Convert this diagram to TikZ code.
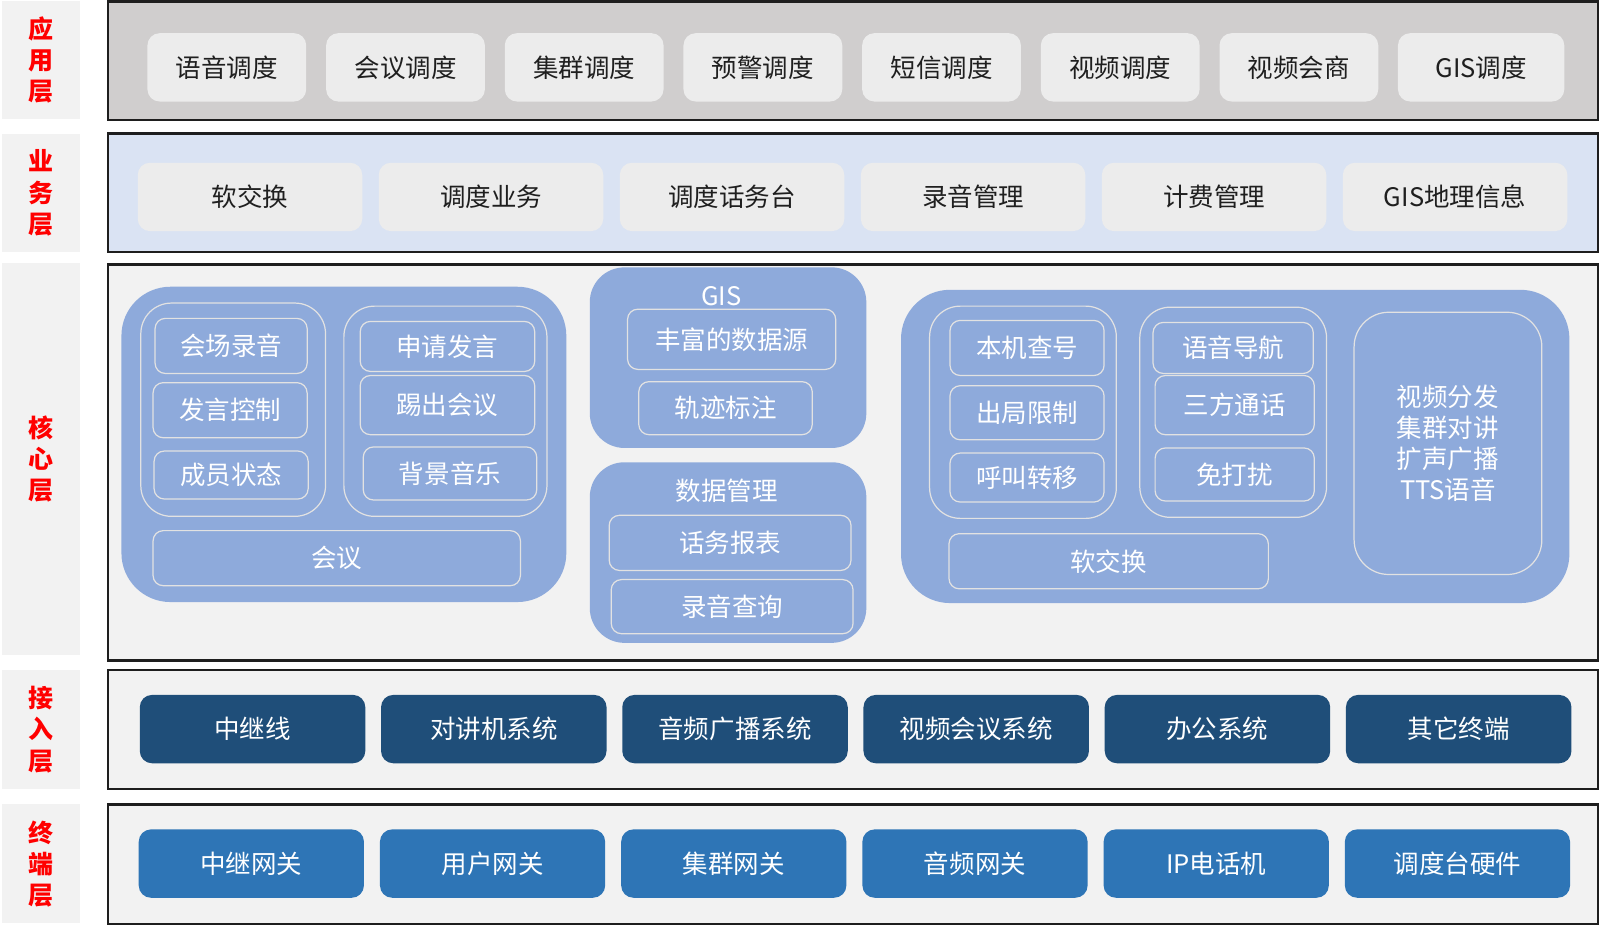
\documentclass[tikz,border=0pt]{standalone}
\usepackage{fontspec}
\newfontfamily\cjk{Noto Sans CJK SC}
\definecolor{labgray}{HTML}{F2F2F2}
\definecolor{appfill}{HTML}{D0CECE}
\definecolor{bizfill}{HTML}{DAE3F3}
\definecolor{corefill}{HTML}{F2F2F2}
\definecolor{itemgray}{HTML}{ECECEC}
\definecolor{grpblue}{HTML}{8EAADB}
\definecolor{lnc}{HTML}{E2E2E2}
\definecolor{accblue}{HTML}{1F4E79}
\definecolor{termblue}{HTML}{2E75B6}
\definecolor{laybd}{HTML}{1E1E1E}
\definecolor{redlab}{HTML}{FF0000}
\tikzset{
  wh/.style 2 args={minimum width=#1pt, minimum height=#2pt},
  base/.style={rectangle, inner sep=0pt, outer sep=0pt, align=center},
  lab/.style={base, fill=labgray, text=redlab, font=\cjk\bfseries\fontsize{24.5}{30.5}\selectfont},
  layer/.style={base, draw=laybd, line width=2.6pt},
  litem/.style={base, rounded corners=12pt, fill=itemgray, text=black!88, font=\cjk\fontsize{25}{30}\selectfont},
  accitem/.style={base, rounded corners=12pt, fill=accblue, text=white, font=\cjk\fontsize{25}{30}\selectfont},
  termitem/.style={base, rounded corners=12pt, fill=termblue, text=white, font=\cjk\fontsize{25}{30}\selectfont},
  cgrp/.style={base, rounded corners=48pt, fill=grpblue},
  mgrp/.style={base, rounded corners=34pt, fill=grpblue},
  igrp/.style={base, rounded corners=30pt, draw=lnc, line width=1.2pt},
  citem/.style={base, rounded corners=10pt, draw=lnc, line width=1.2pt, text=white, font=\cjk\fontsize{25}{30.5}\selectfont},
  ctext/.style={base, text=white, font=\cjk\fontsize{25}{30}\selectfont},
}
\begin{document}
\begin{tikzpicture}[x=1pt, y=-1pt]
\useasboundingbox (0,0) rectangle (1568,908);
% left labels
\node[lab, wh={76}{116}] (labApp) at (40,59) {应\\用\\层};
\node[lab, wh={76}{116}] (labBiz) at (40,189) {业\\务\\层};
\node[lab, wh={76}{384}] (labCore) at (40,450) {核\\心\\层};
\node[lab, wh={76}{116}] (labAcc) at (40,715) {接\\入\\层};
\node[lab, wh={76}{117}] (labTerm) at (40,846.5) {终\\端\\层};
% layer frames
\node[layer, fill=appfill, wh={1460}{116}] (layApp) at (836,59.5) {};
\node[layer, fill=bizfill, wh={1460}{116}] (layBiz) at (836,189) {};
\node[layer, fill=corefill, wh={1460}{388}] (layCore) at (836,453) {};
\node[layer, fill=corefill, wh={1460}{116.5}] (layAcc) at (836,715) {};
\node[layer, fill=corefill, wh={1460}{117}] (layTerm) at (836,847) {};
% application layer
\node[litem, wh={155.6}{67}] (a1) at (222.3,66) {语音调度};
\node[litem, wh={155.6}{67}] (a2) at (397.4,66) {会议调度};
\node[litem, wh={155.6}{67}] (a3) at (572.5,66) {集群调度};
\node[litem, wh={155.6}{67}] (a4) at (747.6,66) {预警调度};
\node[litem, wh={155.6}{67}] (a5) at (922.7,66) {短信调度};
\node[litem, wh={155.6}{67}] (a6) at (1097.8,66) {视频调度};
\node[litem, wh={155.6}{67}] (a7) at (1272.9,66) {视频会商};
\node[litem, wh={163}{67}] (a8) at (1451.5,66) {GIS调度};
% business layer
\node[litem, wh={220}{67}] (b1) at (245,193) {软交换};
\node[litem, wh={220}{67}] (b2) at (481.2,193) {调度业务};
\node[litem, wh={220}{67}] (b3) at (717.4,193) {调度话务台};
\node[litem, wh={220}{67}] (b4) at (953.6,193) {录音管理};
\node[litem, wh={220}{67}] (b5) at (1189.8,193) {计费管理};
\node[litem, wh={220}{67}] (b6) at (1426,193) {GIS地理信息};
% core layer: conference group
\node[cgrp, wh={436}{309}] (gL) at (337,435.5) {};
\node[igrp, wh={181}{209}] (gL1) at (228.5,401.5) {};
\node[citem, wh={149}{54}] (c11) at (226.5,339) {会场录音};
\node[citem, wh={151}{54}] (c12) at (225.5,402) {发言控制};
\node[citem, wh={151}{47}] (c13) at (226.5,465.5) {成员状态};
\node[igrp, wh={199}{206}] (gL2) at (436.5,403) {};
\node[citem, wh={171}{49}] (c21) at (438.5,339.5) {申请发言};
\node[citem, wh={171}{58}] (c22) at (438.5,397) {踢出会议};
\node[citem, wh={170}{52}] (c23) at (441,464) {背景音乐};
\node[citem, wh={360}{54}] (cMeet) at (330,547) {会议};
% GIS group
\node[mgrp, wh={271}{177}] (gG) at (713.5,350.5) {};
\node[ctext] (gisT) at (707,290) {GIS};
\node[citem, wh={204}{59}] (g1) at (717,332.5) {丰富的数据源};
\node[citem, wh={170}{52}] (g2) at (711,400) {轨迹标注};
% data management group
\node[mgrp, wh={271}{177}] (gD) at (713.5,541.5) {};
\node[ctext] (dataT) at (712,481) {数据管理};
\node[citem, wh={237}{54}] (d1) at (715.5,532) {话务报表};
\node[citem, wh={237}{53}] (d2) at (717.5,594.5) {录音查询};
% softswitch group
\node[cgrp, wh={655}{307}] (gR) at (1210.5,437.5) {};
\node[igrp, wh={183}{208}] (gR1) at (1002.5,404) {};
\node[citem, wh={151}{54}] (r11) at (1006.5,341) {本机查号};
\node[citem, wh={151}{53}] (r12) at (1006.5,404.5) {出局限制};
\node[citem, wh={151}{48}] (r13) at (1006.5,468) {呼叫转移};
\node[igrp, wh={183}{206}] (gR2) at (1208.5,404) {};
\node[citem, wh={157}{50}] (r21) at (1208.5,341) {语音导航};
\node[citem, wh={156}{58}] (r22) at (1210,397) {三方通话};
\node[citem, wh={156}{52}] (r23) at (1210,465) {免打扰};
\node[citem, wh={313}{54}] (rSoft) at (1086.5,550) {软交换};
\node[citem, rounded corners=34pt, wh={184}{257}] (rTall) at (1419,434.5) {视频分发\\集群对讲\\扩声广播\\TTS语音};
% access layer
\node[accitem, wh={221}{67}] (x1) at (247.5,714.5) {中继线};
\node[accitem, wh={221}{67}] (x2) at (483.9,714.5) {对讲机系统};
\node[accitem, wh={221}{67}] (x3) at (720.3,714.5) {音频广播系统};
\node[accitem, wh={221}{67}] (x4) at (956.7,714.5) {视频会议系统};
\node[accitem, wh={221}{67}] (x5) at (1193.1,714.5) {办公系统};
\node[accitem, wh={221}{67}] (x6) at (1429.5,714.5) {其它终端};
% terminal layer
\node[termitem, wh={220.7}{67}] (t1) at (246.3,846.3) {中继网关};
\node[termitem, wh={220.7}{67}] (t2) at (482.7,846.3) {用户网关};
\node[termitem, wh={220.7}{67}] (t3) at (719.1,846.3) {集群网关};
\node[termitem, wh={220.7}{67}] (t4) at (955.5,846.3) {音频网关};
\node[termitem, wh={220.7}{67}] (t5) at (1191.9,846.3) {IP电话机};
\node[termitem, wh={220.7}{67}] (t6) at (1428.3,846.3) {调度台硬件};
\end{tikzpicture}
\end{document}
